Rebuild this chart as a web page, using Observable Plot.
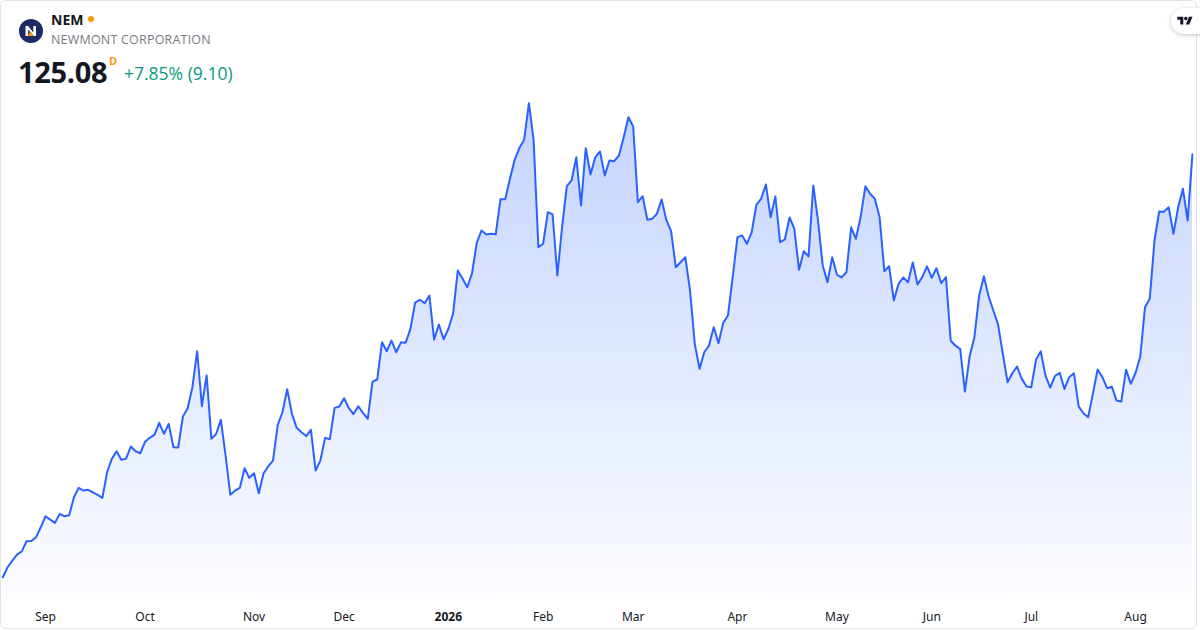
<!DOCTYPE html>
<html><head><meta charset="utf-8">
<script src="https://cdn.jsdelivr.net/npm/d3@7"></script>
<script src="https://cdn.jsdelivr.net/npm/@observablehq/plot@0.6"></script>
<style>
html,body{margin:0;padding:0;background:#fff;}
#card{position:relative;width:1200px;height:630px;overflow:hidden;font-family:"Open Sans",sans-serif;color:#131722;}
#frame{position:absolute;left:0;top:0;width:1197px;height:629px;border:1px solid #e0e3eb;border-radius:6px;box-sizing:border-box;pointer-events:none;}
#chart{position:absolute;left:0;top:0;}
.abs{position:absolute;white-space:nowrap;line-height:1;}
#sym{left:51px;top:13px;font-size:14px;font-weight:700;}
#sym .dot{display:inline-block;width:6px;height:6px;border-radius:50%;background:#ff9800;margin-left:5px;vertical-align:3px;}
#name{left:51px;top:34px;font-size:12.5px;color:#787b86;letter-spacing:0.2px;}
#price{left:18px;top:57px;font-size:29px;font-weight:700;letter-spacing:-0.3px;}
#dd{left:109px;top:55px;font-size:11px;font-weight:700;color:#ff9800;}
#chg{left:124px;top:65px;font-size:17.5px;color:#089981;}
#tv{position:absolute;left:1171px;top:8px;width:44px;height:26px;border-radius:13px;background:#fff;box-shadow:0 1px 4px rgba(0,0,0,0.22);}
</style></head>
<body>
<div id="card">
  <div id="chart"></div>
  <div id="frame"></div>
  <svg class="abs" style="left:19px;top:19px" width="24" height="24" viewBox="0 0 24 24">
    <circle cx="12" cy="12" r="12" fill="#1c2a66"/>
    <path d="M6.5 17V7h2.6l5.2 6.4V7h2.7v10h-2.4L9.2 10.6V17z" fill="#fff"/>
    <path d="M8.5 17l3.2-4.6 3.2 4.6z" fill="#f7941d"/>
  </svg>
  <div id="sym" class="abs">NEM<span class="dot"></span></div>
  <div id="name" class="abs">NEWMONT CORPORATION</div>
  <div id="price" class="abs">125.08</div>
  <div id="dd" class="abs">D</div>
  <div id="chg" class="abs">+7.85% (9.10)</div>
  <div id="tv"><svg style="position:absolute;left:6px;top:7px" width="16" height="12" viewBox="0 0 36 28"><path d="M14 22H7V11H0V4h14v18z" fill="#131722"/><circle cx="20" cy="8" r="4" fill="#131722"/><path d="M28 22h-8l7.5-18h8z" fill="#131722"/></svg></div>
</div>
<script>
// Daily closes (USD), one per trading day, Aug 19 2025 -> Aug 19 2026
const closes = [
  66.80, 68.18, 69.10, 69.93, 70.38, 71.76, 71.80, 72.31, 73.69, 75.21,
  74.75, 74.30, 75.54, 75.21, 75.35, 77.83, 79.12, 78.75, 78.85, 78.52,
  78.16, 77.75, 81.28, 83.12, 84.17, 82.99, 83.16, 84.82, 84.17, 83.90,
  85.47, 86.02, 86.47, 88.09, 86.57, 87.95, 84.72, 84.70, 88.96, 90.10,
  93.00, 97.96, 90.38, 94.61, 85.88, 86.55, 88.50, 83.58, 78.16, 78.75,
  79.12, 81.83, 80.50, 81.14, 78.38, 81.10, 82.10, 82.89, 87.81, 89.55,
  92.72, 89.33, 87.40, 86.79, 86.27, 87.12, 81.51, 82.89, 86.02, 85.83,
  90.15, 90.33, 91.48, 90.12, 89.30, 90.38, 89.47, 88.64, 93.78, 94.06,
  99.20, 97.96, 99.43, 97.82, 99.18, 99.14, 101.05, 104.67, 105.05, 104.58,
  105.64, 99.57, 101.64, 99.61, 101.02, 103.12, 109.09, 107.94, 106.78, 108.71,
  112.91, 114.60, 114.05, 114.15, 114.08, 118.92, 118.90, 121.73, 124.35, 126.00,
  127.11, 132.15, 127.01, 112.30, 112.77, 117.12, 116.81, 108.40, 115.06, 120.71,
  121.50, 124.71, 118.05, 125.95, 122.32, 124.68, 125.49, 122.18, 124.25, 124.16,
  124.94, 127.47, 130.22, 128.94, 118.50, 119.33, 116.08, 116.21, 116.90, 118.88,
  116.05, 114.50, 109.54, 110.23, 110.92, 106.33, 98.98, 95.53, 97.82, 98.74,
  101.27, 99.06, 101.87, 102.88, 108.16, 113.68, 113.91, 112.77, 114.33, 118.14,
  118.97, 120.94, 116.43, 119.30, 112.99, 113.36, 116.40, 114.84, 109.18, 111.75,
  111.02, 120.81, 115.98, 109.78, 107.47, 110.90, 108.49, 108.14, 108.85, 115.04,
  113.46, 116.45, 120.69, 119.66, 118.95, 116.42, 108.99, 109.68, 104.95, 107.25,
  108.12, 107.45, 110.19, 107.16, 108.18, 109.66, 108.08, 109.40, 107.33, 108.17,
  99.41, 98.72, 98.29, 92.40, 97.27, 99.89, 105.62, 108.30, 105.50, 103.57,
  101.62, 97.60, 93.68, 94.93, 95.85, 94.15, 93.09, 92.99, 96.77, 97.94,
  94.60, 92.95, 94.54, 94.98, 92.77, 94.37, 94.91, 90.36, 89.41, 88.86,
  92.08, 95.44, 94.39, 92.86, 93.07, 91.16, 91.02, 95.42, 93.46, 94.96,
  97.23, 104.03, 105.18, 113.22, 117.22, 117.20, 117.81, 114.15, 117.79, 120.35,
  115.98, 125.08
];
// first trading day of each month (index into closes) and its label
const tickIndex = [9, 30, 53, 72, 94, 114, 133, 155, 176, 196, 217, 239];
const tickLabels = ["Sep", "Oct", "Nov", "Dec", "2026", "Feb", "Mar", "Apr", "May", "Jun", "Jul", "Aug"];
const boldLabels = ["2026"];

const data = closes.map((c, i) => ({i, close: c}));
const ticks = tickIndex.map((i, k) => ({i, label: tickLabels[k]}));
const yFloor = 63.6;

const gradient = () => {
  const ns = "http://www.w3.org/2000/svg";
  const defs = document.createElementNS(ns, "defs");
  const lg = document.createElementNS(ns, "linearGradient");
  lg.setAttribute("id", "nemFill");
  lg.setAttribute("x1", "0"); lg.setAttribute("y1", "0");
  lg.setAttribute("x2", "0"); lg.setAttribute("y2", "1");
  [["0%", 0.28], ["100%", 0.012]].forEach(([o, a]) => {
    const s = document.createElementNS(ns, "stop");
    s.setAttribute("offset", o);
    s.setAttribute("stop-color", "#2962ff");
    s.setAttribute("stop-opacity", a);
    lg.appendChild(s);
  });
  defs.appendChild(lg);
  return defs;
};

const chart = Plot.plot({
  width: 1200,
  height: 630,
  margin: 0,
  style: {fontFamily: "'Noto Sans', sans-serif", background: "transparent", overflow: "visible"},
  x: {domain: [0, closes.length - 1], range: [2.35, 1191.9], axis: null},
  y: {domain: [yFloor, 135], range: [600, 82], axis: null},
  marks: [
    gradient,
    Plot.areaY(data, {x: "i", y1: yFloor, y2: "close", fill: "url(#nemFill)"}),
    Plot.lineY(data, {x: "i", y: "close", stroke: "#2962ff", strokeWidth: 2, strokeLinejoin: "round"}),
    Plot.text(ticks.filter(d => !boldLabels.includes(d.label)), {
      x: "i", text: "label", frameAnchor: "bottom", lineAnchor: "middle", dy: -13,
      fontSize: 12, fill: "#131722"
    }),
    Plot.text(ticks.filter(d => boldLabels.includes(d.label)), {
      x: "i", text: "label", frameAnchor: "bottom", lineAnchor: "middle", dy: -13,
      fontSize: 12, fontWeight: 700, fill: "#131722"
    })
  ]
});
document.getElementById("chart").appendChild(chart);
</script>
</body></html>
